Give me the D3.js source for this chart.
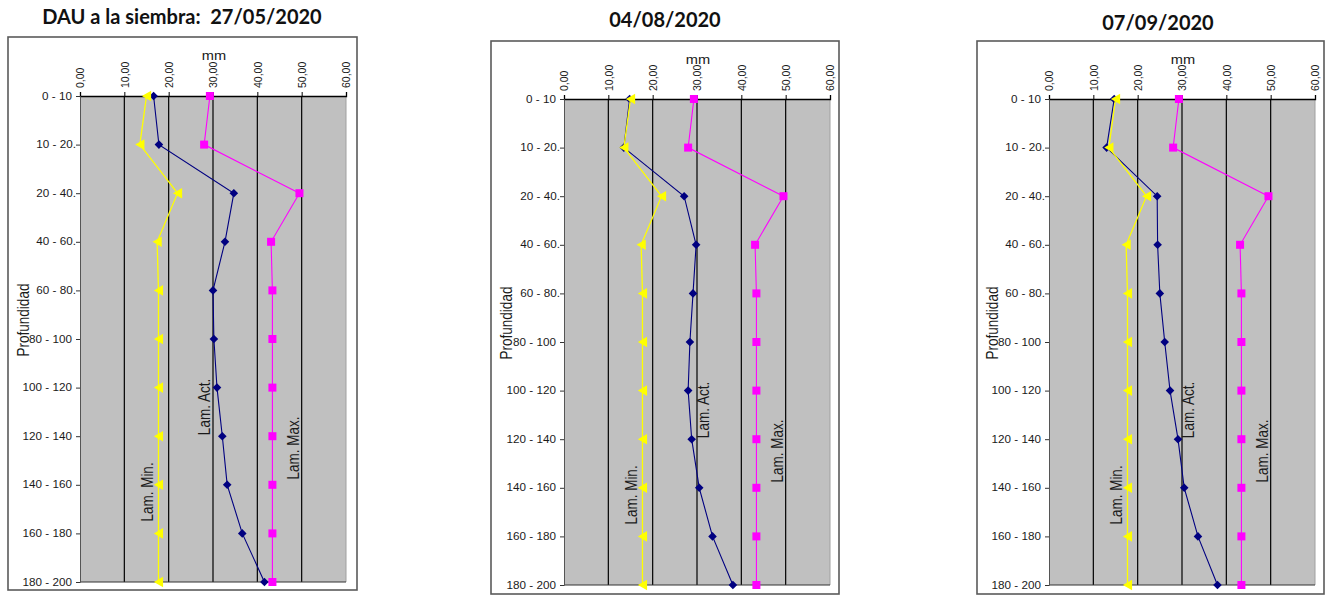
<!DOCTYPE html>
<html><head><meta charset="utf-8">
<script src="https://cdn.jsdelivr.net/npm/d3@7"></script>
<style>body{margin:0;background:#fff}svg{display:block}text{white-space:pre}</style>
</head><body>
<svg id="c" width="1330" height="595"></svg>
<script>
// ---- data ----
const depths = ["0 - 10","10 - 20.","20 - 40.","40 - 60.","60 - 80.","80 - 100","100 - 120","120 - 140","140 - 160","160 - 180","180 - 200"];
const mmTicks = [0,10,20,30,40,50,60];
const titles = ["DAU a la siembra:  27/05/2020","04/08/2020","07/09/2020"];
const lamMin = [15.0,13.5,22.0,17.4,17.7,17.7,17.7,17.7,17.7,17.7,17.7];
const lamMax = [29.3,28.0,49.5,43.1,43.4,43.4,43.4,43.4,43.4,43.4,43.4];
const lamAct1 = [16.6,17.8,34.7,32.7,30.0,30.2,30.9,32.1,33.2,36.6,41.6];
const lamAct2 = [14.8,13.5,27.1,29.8,29.1,28.4,28.0,28.8,30.5,33.5,38.1];
const lamAct3 = [14.7,13.0,24.4,24.5,25.0,26.1,27.3,29.1,30.5,33.6,38.0];
const seriesNames = ["Lam. Min.","Lam. Act.","Lam. Max."];
const actSeries = [lamAct1, lamAct2, lamAct3];

// ---- layout ----
const layouts = [
  {fx:8, fy:37, fw:349, fh:553, x0:80, x1:346, y0:96, y1:582, tx:182, ty:24},
  {fx:491, fy:41, fw:348, fh:553, x0:564, x1:830, y0:99, y1:585, tx:665, ty:27},
  {fx:977, fy:41, fw:347, fh:553, x0:1049, x1:1315, y0:99, y1:585, tx:1158, ty:30}
];
const svg = d3.select("#c");
const TXT = "#1a1a1a";
const SX = 1.17;

layouts.forEach((L, i) => {
  const g = svg.append("g");
  const x = d3.scaleLinear().domain([0,60]).range([L.x0, L.x1]);
  const y = d3.scalePoint().domain(depths).range([L.y0, L.y1]);

  // title
  g.append("text").attr("x", L.tx).attr("y", L.ty).attr("text-anchor","middle")
    .attr("xml:space","preserve")
    .attr("font-family","Lato, 'Open Sans', sans-serif").attr("font-weight","bold")
    .attr("font-size", 20).attr("fill","#111").text(titles[i]);

  // frame
  g.append("rect").attr("x",L.fx).attr("y",L.fy).attr("width",L.fw).attr("height",L.fh)
    .attr("fill","#fff").attr("stroke","#5a5a5a").attr("stroke-width",1.6);

  // plot area
  g.append("rect").attr("x",x(0)).attr("y",L.y0).attr("width",x(60)-x(0)).attr("height",L.y1-L.y0)
    .attr("fill","#c0c0c0");
  g.append("line").attr("x1",x(60)).attr("x2",x(60)).attr("y1",L.y0).attr("y2",L.y1)
    .attr("stroke","#a0a0a0").attr("stroke-width",1);
  g.selectAll(".grid").data(mmTicks.filter(t => t>0 && t<60)).join("line")
    .attr("x1",d=>x(d)).attr("x2",d=>x(d)).attr("y1",L.y0).attr("y2",L.y1)
    .attr("stroke","#000").attr("stroke-width",1.2);
  g.append("line").attr("x1",x(0)).attr("x2",x(60)).attr("y1",L.y1).attr("y2",L.y1)
    .attr("stroke","#333").attr("stroke-width",1);

  // top axis
  const xAxis = d3.axisTop(x).tickValues(mmTicks).tickSize(4).tickFormat(d => d3.format(".2f")(d).replace(".",","));
  const ax = g.append("g").attr("transform",`translate(0,${L.y0})`).call(xAxis);
  ax.select(".domain").attr("stroke","#000").attr("stroke-width",1.3);
  ax.selectAll(".tick line").attr("stroke","#000");
  ax.selectAll(".tick text")
    .attr("font-family","'Liberation Sans', Arial, sans-serif").attr("font-size",10.5).attr("fill",TXT)
    .attr("transform","rotate(-90)").attr("text-anchor","start")
    .attr("x", 8).attr("y", 0).attr("dy","0.35em");

  // left axis
  const yAxis = d3.axisLeft(y).tickSize(4).tickFormat(d => d);
  const ay = g.append("g").attr("transform",`translate(${L.x0},0)`).call(yAxis);
  ay.select(".domain").attr("stroke","#555").attr("stroke-width",1);
  ay.selectAll(".tick line").attr("stroke","#333");
  ay.selectAll(".tick text").remove();
  g.selectAll(".cat").data(depths).join("text")
    .attr("transform", d => `translate(${L.x0 - (d.endsWith(".") ? 4 : 8)},${y(d)}) scale(${SX},1)`)
    .attr("text-anchor","end").attr("dy","0.35em")
    .attr("font-family","'Liberation Sans', Arial, sans-serif").attr("font-size",10).attr("fill",TXT)
    .text(d => d);

  // mm label
  g.append("text").attr("transform",`translate(${(L.x0+L.x1)/2 + 1},${L.fy+23}) scale(${SX},1)`)
    .attr("text-anchor","middle").attr("font-family","'Liberation Sans', Arial, sans-serif")
    .attr("font-size",12.5).attr("fill",TXT).text("mm");

  // Profundidad
  g.append("text").attr("transform",`translate(${L.fx+15},${L.y0+224}) rotate(-90) scale(1,${SX})`)
    .attr("text-anchor","middle").attr("dy","0.35em").attr("font-family","'Liberation Sans', Arial, sans-serif")
    .attr("font-size",13.5).attr("fill",TXT).text("Profundidad");

  // series
  const line = d3.line().x(d => x(d.v)).y(d => y(d.c));
  const toPts = arr => arr.map((v,k) => ({v, c: depths[k]}));
  const act = toPts(actSeries[i]), mn = toPts(lamMin), mx = toPts(lamMax);

  g.append("path").attr("d", line(act)).attr("fill","none").attr("stroke","#000080").attr("stroke-width",1.1);
  g.selectAll(".dia").data(act).join("path")
    .attr("transform", d => `translate(${x(d.v)},${y(d.c)})`)
    .attr("d","M0,-4.3L4.3,0L0,4.3L-4.3,0Z").attr("fill","#000080");

  g.append("path").attr("d", line(mn)).attr("fill","none").attr("stroke","#ffff00").attr("stroke-width",1.3);
  g.selectAll(".tri").data(mn).join("path")
    .attr("transform", d => `translate(${x(d.v)},${y(d.c)})`)
    .attr("d","M-4.6,0L4.6,-5.3L4.6,5.3Z").attr("fill","#ffff00");

  g.append("path").attr("d", line(mx)).attr("fill","none").attr("stroke","#ff00ff").attr("stroke-width",1.1);
  g.selectAll(".sq").data(mx).join("rect")
    .attr("x", d => x(d.v)-4).attr("y", d => y(d.c)-4).attr("width",8).attr("height",8).attr("fill","#ff00ff");

  // series labels
  const labelPos = [
    {dx: 67, dy: 396},
    {dx: i === 0 ? 124 : 139, dy: 311},
    {dx: 213, dy: 352}
  ];
  seriesNames.forEach((name, k) => {
    g.append("text")
      .attr("transform",`translate(${L.x0 + labelPos[k].dx},${L.y0 + labelPos[k].dy}) rotate(-90) scale(1,${SX})`)
      .attr("text-anchor","middle").attr("dy","0.35em")
      .attr("font-family","'Liberation Sans', Arial, sans-serif").attr("font-size",13.5)
      .attr("fill",TXT).text(name);
  });
});
</script>
</body></html>
